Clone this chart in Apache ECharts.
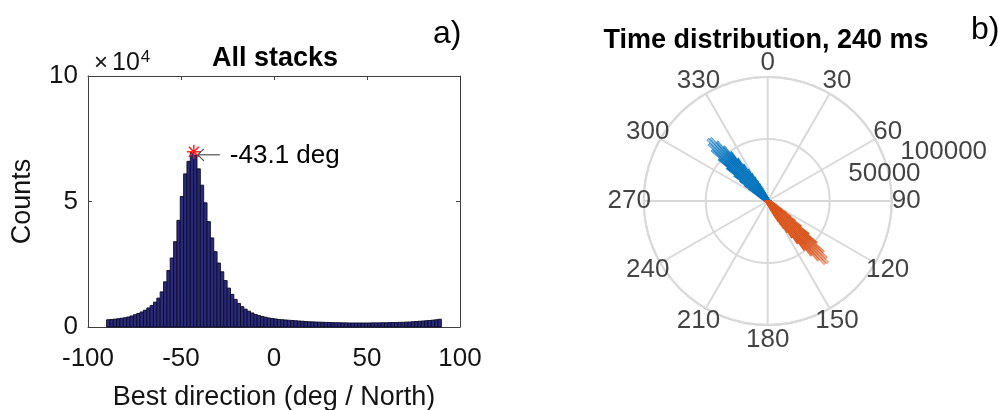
<!DOCTYPE html>
<html>
<head>
<meta charset="utf-8">
<script src="https://cdn.jsdelivr.net/npm/echarts@6/dist/echarts.min.js"></script>
<style>
  html, body { margin: 0; padding: 0; background: #ffffff; }
  #chart { width: 998px; height: 410px; }
</style>
</head>
<body>
<div id="chart"></div>
<script>
// ---------------- DATA ----------------
// Histogram of best direction (deg / North): 100 bins of 1.8 deg from -90 to 90
const binStart = -90;
const binWidth = 1.8;
const counts = [
  2900, 3000, 3150, 3300, 3500, 3700, 4000, 4400, 4900, 5400,
  6000, 6700, 7600, 8600, 9900, 11500, 14000, 18000, 22500, 27500,
  34000, 42500, 52000, 61000, 66000, 69500, 68500, 63000, 56500, 49500,
  42000, 35500, 30000, 25500, 22000, 18500, 15500, 13000, 11000, 9400,
  8100, 7100, 6300, 5600, 5000, 4600, 4200, 3900, 3600, 3400,
  3200, 3000, 2900, 2800, 2700, 2600, 2500, 2400, 2300, 2200,
  2100, 2050, 2000, 1950, 1900, 1850, 1800, 1750, 1700, 1700,
  1650, 1650, 1600, 1600, 1600, 1600, 1600, 1600, 1600, 1650,
  1650, 1650, 1700, 1700, 1750, 1800, 1800, 1850, 1900, 1950,
  2000, 2100, 2200, 2300, 2400, 2500, 2600, 2750, 2900, 3100
];
// peak annotation
const peakAngle = -43.1;
const peakCount = 69800;
const peakLabel = '-43.1 deg';

// axis ticks
const xTicks = { min: -100, max: 100, interval: 50 };
const yTicks = { min: 0, max: 100000, interval: 50000 };
const angleTickLabels = [0, 30, 60, 90, 120, 150, 180, 210, 240, 270, 300, 330];
const radiusTickLabels = [50000, 100000];
const radiusMax = 100000;

// titles
const titleA = 'All stacks';
const titleB = 'Time distribution, 240 ms';
const xName = 'Best direction (deg / North)';
const yName = 'Counts';

// ---------------- BUILD ----------------
const FONT = "'Liberation Sans', Arial, Helvetica, sans-serif";
const TXT = '#141414';

const histData = counts.map((c, i) => [binStart + i * binWidth, binStart + (i + 1) * binWidth, c]);
// polar: the same distribution in compass angles, and its 180 deg counterpart
const polarBlue = counts.map((c, i) => [c, binStart + i * binWidth, binStart + (i + 1) * binWidth]);
const polarOrange = counts.map((c, i) => [c, binStart + i * binWidth + 180, binStart + (i + 1) * binWidth + 180]);

const chart = echarts.init(document.getElementById('chart'), null, { renderer: 'canvas' });

function sectorRender(rgb) {
  return function (params, api) {
    const cs = params.coordSys;
    const v = api.value(0);
    const a0 = api.value(1), a1 = api.value(2);
    const p0 = api.coord([v, a0]);
    const p1 = api.coord([v, a1]);
    const r = Math.hypot(p0[0] - cs.cx, p0[1] - cs.cy);
    let s = Math.atan2(p0[1] - cs.cy, p0[0] - cs.cx);
    let e = Math.atan2(p1[1] - cs.cy, p1[0] - cs.cx);
    if (e < s) e += Math.PI * 2;
    const grad = new echarts.graphic.RadialGradient(cs.cx, cs.cy, cs.r, [
      { offset: 0, color: 'rgba(' + rgb + ',1)' },
      { offset: 0.44, color: 'rgba(' + rgb + ',1)' },
      { offset: 0.6, color: 'rgba(' + rgb + ',0.6)' },
      { offset: 0.75, color: 'rgba(' + rgb + ',0.22)' }
    ], true);
    return {
      type: 'sector',
      shape: { cx: cs.cx, cy: cs.cy, r0: 0, r: r, startAngle: s, endAngle: e, clockwise: true },
      style: { fill: grad, stroke: 'rgba(' + rgb + ',0.8)', lineWidth: 0.7 }
    };
  };
}

const option = {
  animation: false,
  backgroundColor: '#ffffff',
  textStyle: { fontFamily: FONT },
  title: [
    { text: titleA, left: 270, top: 40, textAlign: 'center',
      textStyle: { fontFamily: FONT, fontSize: 27, fontWeight: 'bold', color: '#000' } },
    { text: titleB, left: 761, top: 22, textAlign: 'center',
      textStyle: { fontFamily: FONT, fontSize: 27, fontWeight: 'bold', color: '#000' } },
    { text: 'a)', left: 428, top: 13,
      textStyle: { fontFamily: FONT, fontSize: 32, fontWeight: 'normal', color: '#000' } },
    { text: 'b)', left: 966, top: 9,
      textStyle: { fontFamily: FONT, fontSize: 32, fontWeight: 'normal', color: '#000' } },
    { text: '{x|×}{t|10}{s|4}', left: 89, top: 44,
      textStyle: { fontWeight: 'normal', rich: {
        x: { fontFamily: FONT, fontSize: 24, fontWeight: 'normal', color: TXT, padding: [0, 4, 0, 0] },
        t: { fontFamily: FONT, fontSize: 25, fontWeight: 'normal', color: TXT },
        s: { fontFamily: FONT, fontSize: 17, fontWeight: 'normal', color: TXT, verticalAlign: 'top', padding: [0, 0, 12, 1] }
      } } }
  ],
  grid: { left: 88, top: 76, width: 372, height: 251, show: false, containLabel: false, outerBoundsMode: 'none' },
  xAxis: [
    { type: 'value', min: xTicks.min, max: xTicks.max, interval: xTicks.interval,
      position: 'bottom',
      name: xName, nameLocation: 'middle', nameGap: 57,
      nameTextStyle: { fontFamily: FONT, fontSize: 27, color: TXT },
      axisLine: { show: true, onZero: false, lineStyle: { color: '#404040', width: 1 } },
      axisTick: { show: true, inside: true, length: 4, lineStyle: { color: '#404040' } },
      axisLabel: { fontFamily: FONT, fontSize: 26, color: TXT, margin: 19 },
      splitLine: { show: false } },
    { type: 'value', min: xTicks.min, max: xTicks.max, interval: xTicks.interval,
      position: 'top',
      axisLine: { show: true, onZero: false, lineStyle: { color: '#404040', width: 1 } },
      axisTick: { show: true, inside: true, length: 4, lineStyle: { color: '#404040' } },
      axisLabel: { show: false }, splitLine: { show: false } }
  ],
  yAxis: [
    { type: 'value', min: yTicks.min, max: yTicks.max, interval: yTicks.interval,
      position: 'left',
      name: yName, nameLocation: 'middle', nameGap: 52, nameRotate: 90,
      nameTextStyle: { fontFamily: FONT, fontSize: 27, color: TXT },
      axisLine: { show: true, onZero: false, lineStyle: { color: '#404040', width: 1 } },
      axisTick: { show: true, inside: true, length: 4, lineStyle: { color: '#404040' } },
      axisLabel: { fontFamily: FONT, fontSize: 26, color: TXT, margin: 10,
        formatter: v => String(v / 10000) },
      splitLine: { show: false } },
    { type: 'value', min: yTicks.min, max: yTicks.max, interval: yTicks.interval,
      position: 'right',
      axisLine: { show: true, onZero: false, lineStyle: { color: '#404040', width: 1 } },
      axisTick: { show: true, inside: true, length: 4, lineStyle: { color: '#404040' } },
      axisLabel: { show: false }, splitLine: { show: false } }
  ],
  polar: { center: [767.7, 201], radius: 124 },
  angleAxis: {
    type: 'value', min: 0, max: 360, interval: 30, startAngle: 90, clockwise: true,
    axisLine: { show: true, lineStyle: { color: '#d9d9d9', width: 2 } },
    axisTick: { show: false },
    axisLabel: { show: false },
    splitLine: { show: true, lineStyle: { color: '#d9d9d9', width: 2 } }
  },
  radiusAxis: {
    type: 'value', min: 0, max: radiusMax, interval: 50000,
    axisLine: { show: false }, axisTick: { show: false }, axisLabel: { show: false },
    splitLine: { show: true, lineStyle: { color: '#d9d9d9', width: 2 } }
  },
  series: [
    { type: 'custom', name: 'hist', xAxisIndex: 0, yAxisIndex: 0,
      encode: { x: [0, 1], y: 2 },
      data: histData,
      renderItem: function (params, api) {
        const p0 = api.coord([api.value(0), 0]);
        const p1 = api.coord([api.value(1), api.value(2)]);
        return { type: 'rect',
          shape: { x: p0[0], y: p1[1], width: p1[0] - p0[0], height: p0[1] - p1[1] },
          style: { fill: '#29297e', stroke: '#0c0c24', lineWidth: 0.9 } };
      } },
    { type: 'custom', name: 'peak', xAxisIndex: 0, yAxisIndex: 0, z: 5,
      encode: { x: 0, y: 1 },
      data: [[peakAngle, peakCount, peakLabel]],
      renderItem: function (params, api) {
        const p = api.coord([api.value(0), api.value(1)]);
        const x = p[0], y = p[1];
        const ch = [];
        const L = 7;
        for (let k = 0; k < 4; k++) {
          const a = k * Math.PI / 4;
          ch.push({ type: 'line', shape: { x1: x - L * Math.cos(a), y1: y - L * Math.sin(a), x2: x + L * Math.cos(a), y2: y + L * Math.sin(a) },
            style: { stroke: '#ff1a1a', lineWidth: 1.4 } });
        }
        ch.push({ type: 'line', shape: { x1: x + 26, y1: y + 3, x2: x + 4, y2: y + 3 }, style: { stroke: '#505050', lineWidth: 1.2 } });
        ch.push({ type: 'polyline', shape: { points: [[x + 10, y - 3], [x + 4, y + 3], [x + 10, y + 9]] }, style: { stroke: '#505050', lineWidth: 1.2, fill: null } });
        ch.push({ type: 'text', style: { text: api.value(2), x: x + 36, y: y + 4, align: 'left', verticalAlign: 'middle',
          font: '26px ' + FONT, fill: '#000' } });
        return { type: 'group', children: ch };
      } },
    { type: 'custom', name: 'polarBlue', coordinateSystem: 'polar', z: 3,
      encode: { radius: 0, angle: [1, 2] },
      data: polarBlue, renderItem: sectorRender('0,114,189') },
    { type: 'custom', name: 'polarOrange', coordinateSystem: 'polar', z: 3,
      encode: { radius: 0, angle: [1, 2] },
      data: polarOrange, renderItem: sectorRender('217,83,25') },
    { type: 'scatter', name: 'angleLabels', coordinateSystem: 'polar', clip: false, z: 4,
      symbolSize: 1, itemStyle: { color: 'rgba(0,0,0,0)' }, silent: true,
      data: angleTickLabels.map(a => [radiusMax * 138.5 / 124, a]),
      label: { show: true, position: 'inside', fontFamily: FONT, fontSize: 26, color: TXT,
        formatter: p => String(p.value[1]) } },
    { type: 'scatter', name: 'radiusLabels', coordinateSystem: 'polar', clip: false, z: 4,
      symbolSize: 1, itemStyle: { color: 'rgba(0,0,0,0)' }, silent: true,
      data: radiusTickLabels.map((r, i) => ({ value: [r, 80],
        label: { offset: i === 0 ? [19, -16] : [10, -28] } })),
      label: { show: true, position: 'right', distance: 0, fontFamily: FONT, fontSize: 26, color: TXT,
        formatter: p => String(p.value[0]) } }
  ]
};
chart.setOption(option);
</script>
</body>
</html>
